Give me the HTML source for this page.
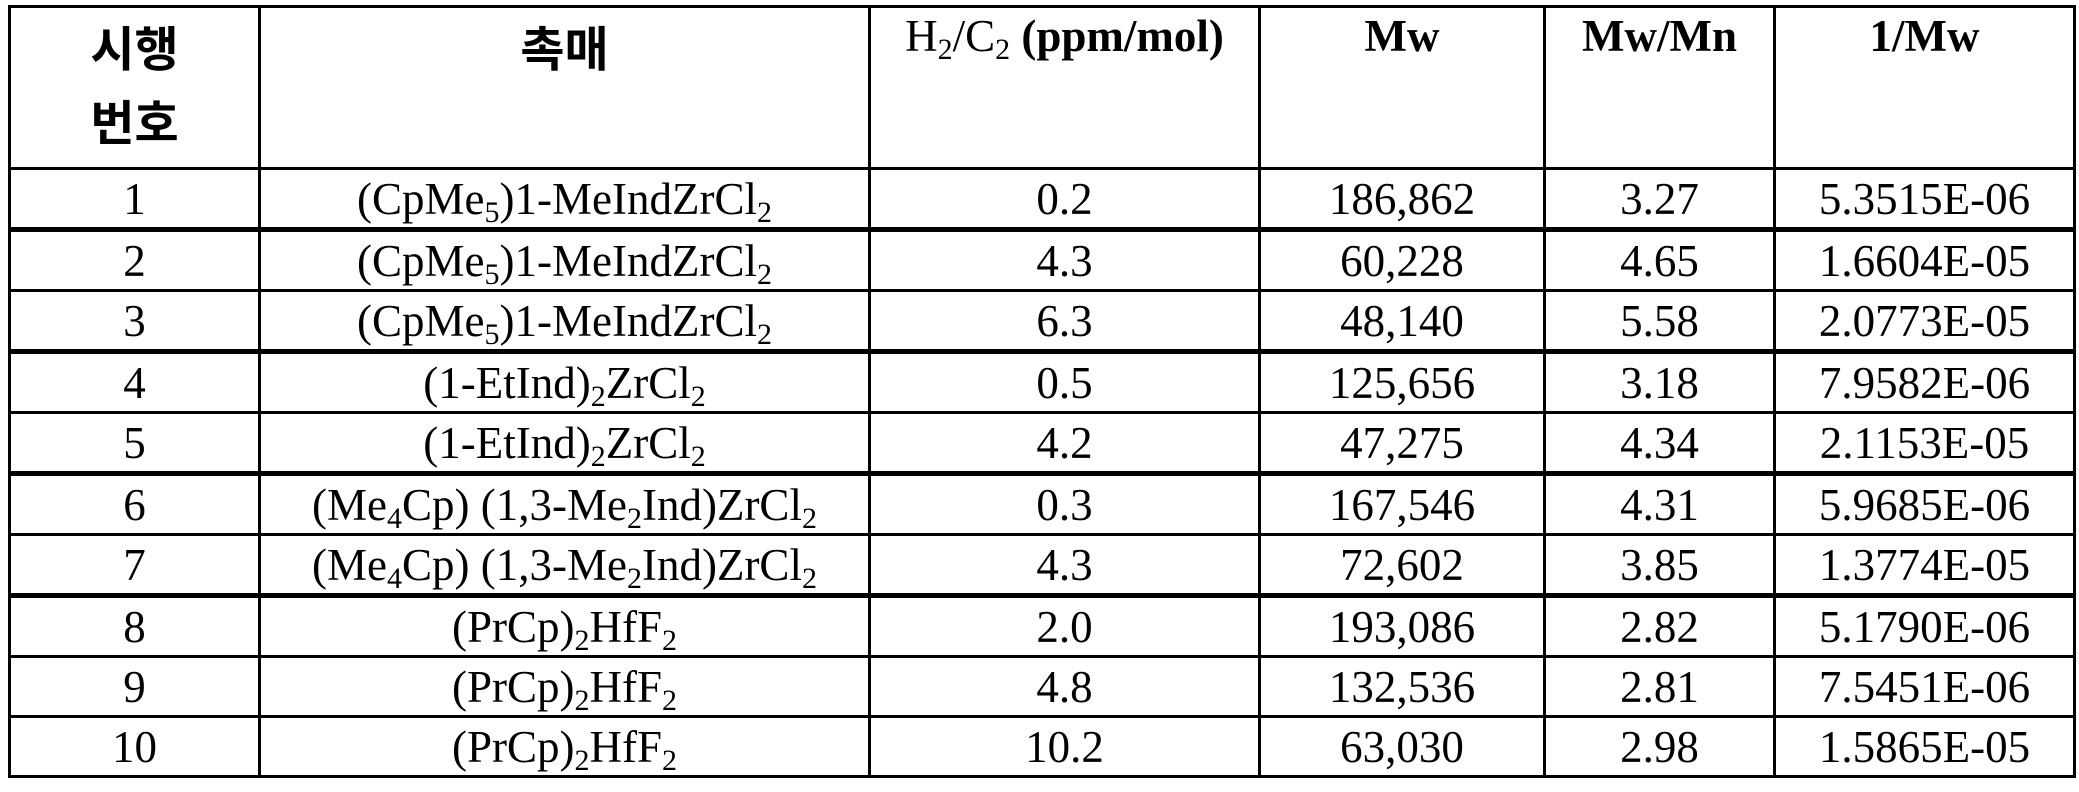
<!DOCTYPE html>
<html><head><meta charset="utf-8"><style>
html,body{margin:0;padding:0;background:#fff;width:2079px;height:792px;overflow:hidden}
table{position:absolute;left:8px;top:5px;border-collapse:collapse;table-layout:fixed;font-family:"Liberation Serif","Noto Serif CJK SC",serif;font-size:45px;color:#000}
td,th{border:3px solid #000;text-align:center;padding:0;height:57px;line-height:44px;overflow:hidden;white-space:nowrap}
th{vertical-align:top;height:153px;font-weight:bold}
th.k{font-family:"Liberation Sans","Noto Sans CJK KR",sans-serif;font-size:48px;line-height:74px;padding-top:6px}
th.e{padding-top:6px}
tr.t td{border-bottom-width:5px}
sub{font-size:30px;vertical-align:-8px;line-height:0}
</style></head><body>
<table>
<colgroup><col style="width:250px"><col style="width:610px"><col style="width:390px"><col style="width:285px"><col style="width:230px"><col style="width:300px"></colgroup>
<tr><th class="k">시행<br>번호</th><th class="k">촉매</th><th class="e"><span style="font-weight:normal">H<sub>2</sub>/C<sub>2</sub></span> (ppm/mol)</th><th class="e">Mw</th><th class="e">Mw/Mn</th><th class="e">1/Mw</th></tr>
<tr class="t"><td>1</td><td>(CpMe<sub>5</sub>)1-MeIndZrCl<sub>2</sub></td><td>0.2</td><td>186,862</td><td>3.27</td><td>5.3515E-06</td></tr>
<tr><td>2</td><td>(CpMe<sub>5</sub>)1-MeIndZrCl<sub>2</sub></td><td>4.3</td><td>60,228</td><td>4.65</td><td>1.6604E-05</td></tr>
<tr class="t"><td>3</td><td>(CpMe<sub>5</sub>)1-MeIndZrCl<sub>2</sub></td><td>6.3</td><td>48,140</td><td>5.58</td><td>2.0773E-05</td></tr>
<tr><td>4</td><td>(1-EtInd)<sub>2</sub>ZrCl<sub>2</sub></td><td>0.5</td><td>125,656</td><td>3.18</td><td>7.9582E-06</td></tr>
<tr class="t"><td>5</td><td>(1-EtInd)<sub>2</sub>ZrCl<sub>2</sub></td><td>4.2</td><td>47,275</td><td>4.34</td><td>2.1153E-05</td></tr>
<tr><td>6</td><td>(Me<sub>4</sub>Cp) (1,3-Me<sub>2</sub>Ind)ZrCl<sub>2</sub></td><td>0.3</td><td>167,546</td><td>4.31</td><td>5.9685E-06</td></tr>
<tr class="t"><td>7</td><td>(Me<sub>4</sub>Cp) (1,3-Me<sub>2</sub>Ind)ZrCl<sub>2</sub></td><td>4.3</td><td>72,602</td><td>3.85</td><td>1.3774E-05</td></tr>
<tr><td>8</td><td>(PrCp)<sub>2</sub>HfF<sub>2</sub></td><td>2.0</td><td>193,086</td><td>2.82</td><td>5.1790E-06</td></tr>
<tr><td>9</td><td>(PrCp)<sub>2</sub>HfF<sub>2</sub></td><td>4.8</td><td>132,536</td><td>2.81</td><td>7.5451E-06</td></tr>
<tr><td>10</td><td>(PrCp)<sub>2</sub>HfF<sub>2</sub></td><td>10.2</td><td>63,030</td><td>2.98</td><td>1.5865E-05</td></tr>
</table>
</body></html>
